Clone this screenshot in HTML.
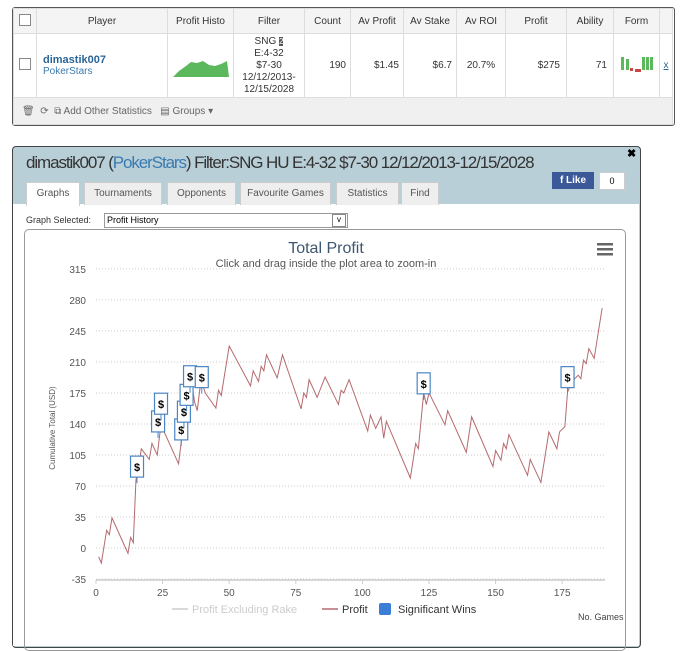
<!DOCTYPE html>
<html><head><meta charset="utf-8">
<style>
body{margin:0;width:700px;height:640px;background:#fff;font-family:"Liberation Sans",sans-serif;position:relative;overflow:hidden}
.abs{position:absolute}
table.st{position:absolute;left:13px;top:8px;width:660px;border-collapse:collapse;font-size:10px;color:#333}
table.st td{border:1px solid #ddd;text-align:center;padding:0}
.cb{display:inline-block;width:10px;height:10px;border:1px solid #888;background:#fff}
.tab{position:absolute;top:182px;height:22px;background:#eee;border:1px solid #ccc;border-bottom:none;font-size:10px;color:#555;text-align:center;line-height:22px}
</style></head><body>
<div class="abs" style="left:12px;top:7px;width:661px;height:117px;border:1px solid #555;border-radius:3px"></div>
<table class="st">
<tr style="height:25px;background:#f4f4f4">
<td style="width:22px"><span class="cb"></span></td>
<td style="width:130px">Player</td>
<td style="width:65px">Profit Histo</td><td style="width:70px">Filter</td><td style="width:45px">Count</td>
<td style="width:52px">Av Profit</td><td style="width:52px">Av Stake</td><td style="width:48px">Av ROI</td>
<td style="width:60px">Profit</td><td style="width:46px">Ability</td><td style="width:45px">Form</td><td></td></tr>
<tr style="height:64px">
<td><span class="cb"></span></td>
<td style="text-align:left;padding-left:6px"><b style="color:#2a6496;font-size:11px">dimastik007</b><br><span style="color:#3a7ab0">PokerStars</span></td>
<td><svg width="60" height="30"><path d="M2 28 L8 22 L15 17 L20 13 L26 14 L32 12 L38 16 L44 17 L50 15 L56 12 L58 28Z" fill="#5cb85c"/></svg></td>
<td style="line-height:12px">SNG <span style="background:#555;color:#fff;font-size:8px">2</span><br>E:4-32<br>$7-30<br>12/12/2013-<br>12/15/2028</td>
<td style="text-align:right;padding-right:4px">190</td><td style="text-align:right;padding-right:4px">$1.45</td><td style="text-align:right;padding-right:4px">$6.7</td><td>20.7%</td>
<td style="text-align:right;padding-right:6px">$275</td><td style="text-align:right;padding-right:6px">71</td>
<td><svg width="36" height="20"><rect x="2" y="3" width="3" height="13" fill="#5cb85c"/><rect x="7" y="5" width="3" height="11" fill="#5cb85c"/><rect x="11" y="14" width="3" height="3" fill="#c44"/><rect x="16" y="15" width="3" height="3" fill="#c44"/><rect x="19" y="15" width="3" height="3" fill="#c44"/><rect x="23" y="3" width="3" height="13" fill="#5cb85c"/><rect x="27" y="3" width="3" height="13" fill="#5cb85c"/><rect x="31" y="3" width="3" height="13" fill="#5cb85c"/></svg></td>
<td style="color:#2a6496;text-decoration:underline">x</td></tr>
<tr style="height:27px;background:#f0f0f0"><td colspan="12" style="text-align:left;padding-left:8px;color:#666">🗑 &nbsp;⟳ &nbsp;<span>⧉ Add Other Statistics</span> &nbsp; <span>▤ Groups ▾</span></td></tr>
</table>

<div class="abs" style="left:12px;top:146px;width:627px;height:500px;border:1px solid #444;border-radius:4px;background:#b9cfd7"></div>
<div class="abs" style="left:26px;top:153px;font-size:17px;color:#333;letter-spacing:-1.1px">dimastik007 (<span style="color:#3a7ab0">PokerStars</span>) Filter:SNG HU E:4-32 $7-30 12/12/2013-12/15/2028</div>
<div class="abs" style="left:627px;top:147px;font-size:11px;font-weight:bold">✖</div>
<div class="abs" style="left:552px;top:172px;width:42px;height:17px;background:#3b5998;color:#fff;font-size:10px;font-weight:bold;line-height:17px;text-align:center">f Like</div>
<div class="abs" style="left:599px;top:172px;width:24px;height:16px;background:#fff;border:1px solid #ccc;font-size:9px;text-align:center;line-height:16px">0</div>
<div class="abs" style="left:13px;top:204px;width:626px;height:442px;background:#fff"></div>
<div class="tab" style="left:26px;width:52px;background:#fff;height:23px">Graphs</div>
<div class="tab" style="left:84px;width:76px">Tournaments</div>
<div class="tab" style="left:167px;width:67px">Opponents</div>
<div class="tab" style="left:240px;width:89px">Favourite Games</div>
<div class="tab" style="left:336px;width:61px">Statistics</div>
<div class="tab" style="left:401px;width:36px">Find</div>
<div class="abs" style="left:26px;top:215px;font-size:9px;color:#333">Graph Selected:</div>
<div class="abs" style="left:104px;top:213px;width:240px;height:13px;border:1px solid #999;font-size:9px;line-height:13px;padding-left:2px">Profit History<span style="position:absolute;right:1px;top:0;width:12px;height:11px;border:1px solid #888;text-align:center;line-height:10px;font-size:8px">v</span></div>
<div class="abs" style="left:24px;top:229px;width:600px;height:420px;border:1px solid #999;border-radius:5px"></div>

<svg class="abs" style="left:0;top:0" width="700" height="640" id="chart">
<text x="326" y="253" text-anchor="middle" font-size="16" fill="#3e5770">Total Profit</text>
<text x="326" y="267" text-anchor="middle" font-size="11" fill="#555">Click and drag inside the plot area to zoom-in</text>
<g><rect x="597" y="243" width="16" height="2.5" fill="#666"/><rect x="597" y="248" width="16" height="2.5" fill="#666"/><rect x="597" y="253" width="16" height="2.5" fill="#666"/></g>
<text transform="translate(55,428) rotate(-90)" text-anchor="middle" font-size="8" fill="#555">Cumulative Total (USD)</text>
<text x="578" y="620" font-size="9" fill="#444">No. Games</text>
<g id="grid"></g><g id="series"></g><g id="flags"></g>
<g>
<line x1="172" y1="609" x2="188" y2="609" stroke="#ccc" stroke-width="1.5"/><text x="192" y="613" font-size="11" fill="#ccc">Profit Excluding Rake</text>
<line x1="322" y1="609" x2="338" y2="609" stroke="#b56a6e" stroke-width="1.5"/><text x="342" y="613" font-size="11" fill="#333">Profit</text>
<rect x="379" y="603" width="12" height="12" rx="2" fill="#3a7fd5"/><text x="398" y="613" font-size="11" fill="#333">Significant Wins</text>
</g>
</svg>
<script>
const yTicks=[-35,0,35,70,105,140,175,210,245,280,315];
const xTicks=[0,25,50,75,100,125,150,175];
const games=[1,2,4,5,6,12,13,14,15,16,17,18,20,21,23,24,25,31,32,33,34,35,36,37,38,39,40,41,45,46,47,50,58,59,61,62,63,64,68,70,77,78,79,80,83,86,91,92,93,95,102,103,105,107,108,109,118,120,121,123,124,125,131,132,139,141,149,150,152,153,154,155,162,163,167,170,173,174,176,177,179,181,182,183,184,185,187,190];
const profit=[-10,-17,20,15,34,-6,12,6,77,90,112,108,100,118,105,130,135,95,120,140,150,165,185,165,155,180,185,175,158,178,172,228,183,200,188,205,200,218,192,218,157,175,170,190,170,193,162,178,175,190,132,150,135,148,124,143,79,118,112,175,162,175,139,155,108,148,92,110,99,118,112,128,82,100,74,131,112,131,137,176,189,195,191,212,208,225,214,271];
const flagGames=[15.4,23.3,24.4,32,33,34,35.3,39.7,123,177];
const flagVals=[80,131,151,122,142,161,182,181,174,181];
const X=g=>96+g*2.664, Y=v=>548-v*0.886;
const NS="http://www.w3.org/2000/svg";
function mk(t,a,p){const e=document.createElementNS(NS,t);for(const k in a)e.setAttribute(k,a[k]);p.appendChild(e);return e;}
const grid=document.getElementById('grid');
yTicks.forEach(v=>{
 const l=mk('line',{x1:96,x2:605,y1:Y(v),y2:Y(v),stroke:'#ccc','stroke-dasharray':'1,2'},grid);
 
 
 const t=mk('text',{x:86,y:Y(v)+4,'text-anchor':'end','font-size':10,fill:'#555'},grid);t.textContent=v;
 
 
});
const ax=mk('line',{x1:96,x2:605,y1:580,y2:580,stroke:'#ccc','stroke-width':1.5},grid);


xTicks.forEach(g=>{
 mk('line',{x1:X(g),x2:X(g),y1:580,y2:584,stroke:'#ccc'},grid);
 const t=mk('text',{x:X(g),y:596,'text-anchor':'middle','font-size':10,fill:'#555'},grid);t.textContent=g;
 
 
});
const pl=mk('polyline',{points:games.map((g,i)=>X(g)+','+Y(profit[i])).join(' '),fill:'none',stroke:'#b56a6e','stroke-width':1},document.getElementById('series'));


const fl=document.getElementById('flags');
flagGames.forEach((g,i)=>{
 const x=X(g),y=Y(flagVals[i]);
 const gr=mk('g',{},fl);
 
 
 mk('line',{x1:x,x2:x,y1:y,y2:y+6,stroke:'#4a86c5'},gr);
 mk('rect',{x:x-6.5,y:y-21,width:13,height:21,fill:'#fff',stroke:'#4a86c5','stroke-width':1.2},gr);
 const t=mk('text',{x:x,y:y-6,'text-anchor':'middle','font-size':11,'font-weight':'bold',fill:'#000'},gr);t.textContent='$';
});
</script>
</body></html>
